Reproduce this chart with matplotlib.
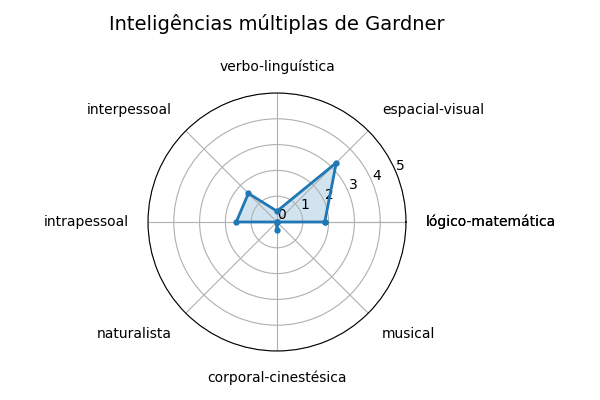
import numpy as np
import matplotlib
matplotlib.use('Agg')
import matplotlib.pyplot as plt

# inteligencias e pontuacoes
categorias = ['lógico-matemática', 'espacial-visual', 'verbo-linguística', 'interpessoal',
              'intrapessoal', 'naturalista', 'corporal-cinestésica', 'musical']
valores = [1.85, 3.25, 0.42, 1.57, 1.58, 0.0, 0.3, 0.0]

n = len(categorias)
angulos = [i * 2 * np.pi / n for i in range(n)]
angulos += angulos[:1]
vals = valores + valores[:1]

fig = plt.figure(figsize=(6, 4), dpi=100)
ax = fig.add_axes([148 / 600, 49 / 400, 258 / 600, 258 / 400], polar=True)

ax.plot(angulos, vals, 'o-', linewidth=2, markersize=3.5, color='C0')
ax.fill(angulos, vals, alpha=0.2, color='C0')
ax.set_thetagrids(np.degrees(angulos), categorias + categorias[:1])
ax.set_ylim(0, 5)
ax.set_yticks([0, 1, 2, 3, 4, 5])

# alinhar rotulos conforme o lado
for label, ang in zip(ax.get_xticklabels(), angulos):
    c = round(np.cos(ang), 6)
    s = round(np.sin(ang), 6)
    label.set_horizontalalignment('left' if c > 0 else ('right' if c < 0 else 'center'))
    label.set_verticalalignment('bottom' if s > 0 else ('top' if s < 0 else 'center'))

fig.text(277 / 600, 1 - 24 / 400, 'Inteligências múltiplas de Gardner', fontsize=14,
         ha='center', va='center')

fig.savefig('out.png', dpi=100)
